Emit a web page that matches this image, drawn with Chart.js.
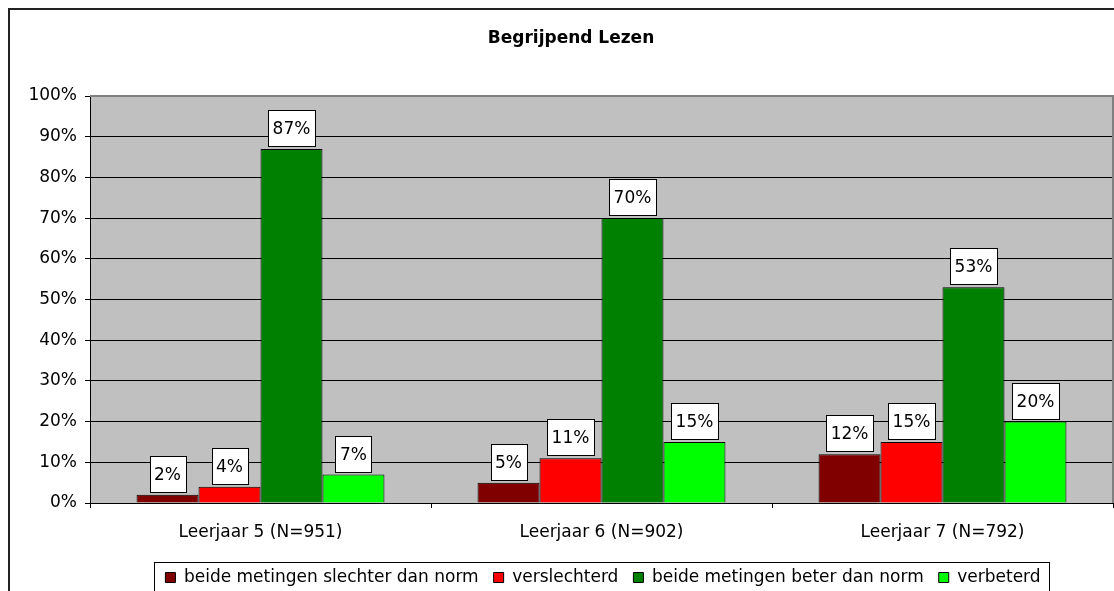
<!DOCTYPE html>
<html>
<head>
<meta charset="utf-8">
<script src="https://cdn.jsdelivr.net/npm/chart.js@4/dist/chart.umd.min.js"></script>
<style>
    html, body { margin: 0; padding: 0; background: #fff; overflow: hidden; }
    #wrap { width: 1206px; height: 596px; }
</style>
</head>
<body>
<div id="wrap"><canvas id="chart" width="1206" height="596"></canvas></div>
<script>
// Data
const chartTitle = 'Begrijpend Lezen';
const categories = ['Leerjaar 5 (N=951)', 'Leerjaar 6 (N=902)', 'Leerjaar 7 (N=792)'];
const seriesNames = ['beide metingen slechter dan norm', 'verslechterd', 'beide metingen beter dan norm', 'verbeterd'];
const slechterDanNorm = [2, 5, 12];
const verslechterd = [4, 11, 15];
const beterDanNorm = [87, 70, 53];
const verbeterd = [7, 15, 20];
const seriesColors = ['#800000', '#ff0000', '#008000', '#00ff00'];

Chart.defaults.font.family = "'DejaVu Sans', sans-serif";
Chart.defaults.font.size = 17;
Chart.defaults.color = '#000';

// plot background, border, outer frame, title, value boxes, legend frame
const excelLook = {
    id: 'excelLook',
    beforeDraw(chart) {
        const { ctx, chartArea: a } = chart;
        ctx.save();
        ctx.fillStyle = '#c0c0c0';
        ctx.fillRect(a.left, a.top, a.right - a.left, a.bottom - a.top);
        ctx.restore();
    },
    beforeDatasetsDraw(chart) {
        const { ctx, chartArea: a } = chart;
        ctx.save();
        ctx.strokeStyle = '#808080';
        ctx.lineWidth = 2;
        ctx.beginPath();
        ctx.moveTo(a.left, a.top);
        ctx.lineTo(a.right, a.top);
        ctx.lineTo(a.right, a.bottom);
        ctx.stroke();
        ctx.restore();
    },
    afterDatasetsDraw(chart) {
        const ctx = chart.ctx;
        ctx.save();
        ctx.font = "17px 'DejaVu Sans'";
        ctx.textAlign = 'center';
        ctx.textBaseline = 'middle';
        chart.data.datasets.forEach((ds, i) => {
            chart.getDatasetMeta(i).data.forEach((bar, j) => {
                const txt = ds.data[j] + '%';
                const w = Math.round(ctx.measureText(txt).width + 9);
                const h = 36;
                const x = Math.round(bar.x - w / 2) + 0.5;
                const y = Math.round(bar.y - 3 - h) + 0.5;
                ctx.fillStyle = '#fff';
                ctx.fillRect(x, y, w, h);
                ctx.strokeStyle = '#000';
                ctx.lineWidth = 1;
                ctx.strokeRect(x, y, w, h);
                ctx.fillStyle = '#000';
                ctx.fillText(txt, bar.x, y + h / 2 + 1);
            });
        });
        ctx.restore();
    },
    afterDraw(chart) {
        const ctx = chart.ctx;
        ctx.save();
        // outer frame
        ctx.strokeStyle = '#222';
        ctx.lineWidth = 2;
        ctx.strokeRect(9, 9, chart.width, chart.height);
        // title
        ctx.fillStyle = '#000';
        ctx.font = "bold 17px 'DejaVu Sans'";
        ctx.textAlign = 'center';
        ctx.textBaseline = 'middle';
        ctx.fillText(chartTitle, 571, 39);
        // legend frame
        const hb = chart.legend.legendHitBoxes;
        if (hb && hb.length) {
            const first = hb[0], last = hb[hb.length - 1];
            const left = Math.round(first.left - 11) + 0.5;
            const right = Math.round(last.left + last.width + 8) + 0.5;
            const top = Math.round(first.top - 7) + 0.5;
            ctx.strokeStyle = '#000';
            ctx.lineWidth = 1;
            ctx.strokeRect(left, top, right - left, 31);
        }
        ctx.restore();
    }
};

const seriesData = [slechterDanNorm, verslechterd, beterDanNorm, verbeterd];

new Chart(document.getElementById('chart'), {
    type: 'bar',
    data: {
        labels: categories,
        datasets: seriesNames.map((name, i) => ({
            label: name,
            data: seriesData[i],
            backgroundColor: seriesColors[i],
            borderColor: '#000',
            borderWidth: 1,
            categoryPercentage: 0.727,
            barPercentage: 1
        }))
    },
    options: {
        responsive: false,
        animation: false,
        layout: { padding: { top: 96, left: 0, right: 0, bottom: 0 } },
        plugins: {
            title: { display: false },
            tooltip: { enabled: false },
            legend: {
                position: 'bottom',
                labels: {
                    boxWidth: 10,
                    boxHeight: 10,
                    padding: 15,
                    color: '#000',
                    font: { size: 17 }
                }
            }
        },
        scales: {
            x: {
                offset: true,
                grid: { offset: true, drawOnChartArea: false, drawTicks: true, tickLength: 5, tickColor: '#000' },
                border: { color: '#000', width: 1 },
                ticks: { padding: 14, color: '#000', font: { size: 17 } },
                afterFit: s => { s.height = 51; }
            },
            y: {
                min: 0,
                max: 100,
                grid: { color: '#000', lineWidth: 1, tickLength: 5, tickColor: '#000' },
                border: { color: '#000', width: 1 },
                ticks: { stepSize: 10, padding: 8, color: '#000', font: { size: 17 }, callback: v => v + '%' },
                afterFit: s => { s.width = 90; }
            },
            y2: {
                position: 'right',
                display: true,
                grid: { drawOnChartArea: false, drawTicks: false },
                border: { display: false },
                ticks: { display: false },
                afterFit: s => { s.width = 93; }
            }
        }
    },
    plugins: [excelLook]
});
</script>
</body>
</html>
